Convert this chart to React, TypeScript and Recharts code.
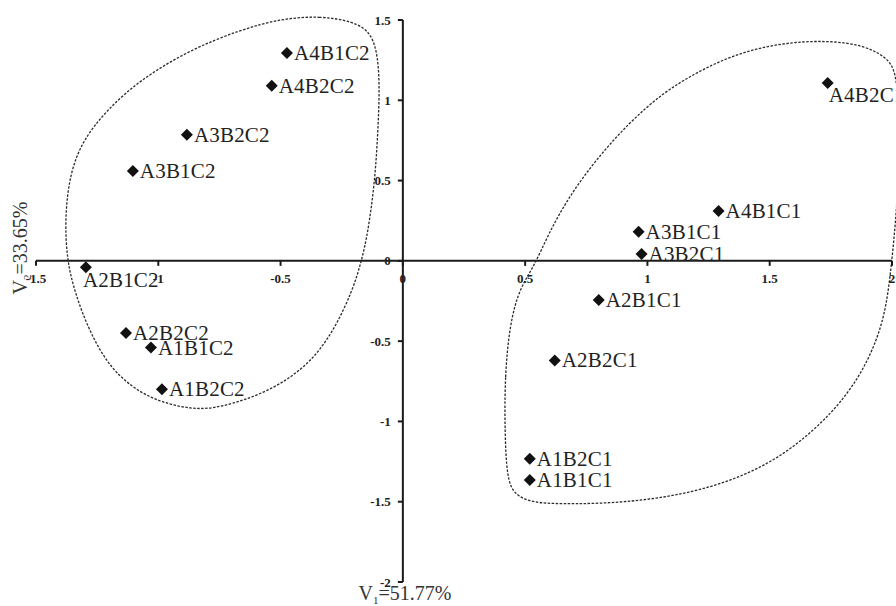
import React from 'react';
import {
  ScatterChart,
  Scatter,
  XAxis,
  YAxis,
  ZAxis,
  ReferenceLine,
  ReferenceDot,
  LabelList,
} from 'recharts';

// treatment scores on the first two components
const treatments = [
  'A4B1C2', 'A4B2C2', 'A3B2C2', 'A3B1C2', 'A2B1C2', 'A2B2C2', 'A1B1C2', 'A1B2C2',
  'A4B2C1', 'A4B1C1', 'A3B1C1', 'A3B2C1', 'A2B1C1', 'A2B2C1', 'A1B2C1', 'A1B1C1',
];
const v1Scores = [
  -0.474, -0.536, -0.883, -1.104, -1.296, -1.132, -1.03, -0.985,
  1.737, 1.291, 0.964, 0.976, 0.801, 0.621, 0.519, 0.519,
];
const v2Scores = [
  1.295, 1.09, 0.785, 0.56, -0.04, -0.45, -0.54, -0.8,
  1.108, 0.311, 0.181, 0.042, -0.243, -0.62, -1.233, -1.364,
];

const xTicks = [-1.5, -1, -0.5, 0, 0.5, 1, 1.5, 2];
const yTicks = [-2, -1.5, -1, -0.5, 0, 0.5, 1, 1.5];

// dashed group outlines (C2 group on the left, C1 group on the right)
const c2Outline: [number, number][] = [
  [-0.503, 1.507], [-0.339, 1.526], [-0.2, 1.49], [-0.135, 1.426], [-0.106, 1.314],
  [-0.094, 1.108], [-0.102, 0.797], [-0.115, 0.486], [-0.143, 0.174], [-0.168, 0.006],
  [-0.204, -0.181], [-0.286, -0.448], [-0.392, -0.66], [-0.556, -0.822], [-0.748, -0.915],
  [-0.859, -0.928], [-1.034, -0.866], [-1.186, -0.697], [-1.28, -0.448], [-1.341, -0.199],
  [-1.374, 0.006], [-1.382, 0.274], [-1.361, 0.548], [-1.308, 0.753], [-1.21, 0.94],
  [-1.075, 1.127], [-0.871, 1.314], [-0.666, 1.438],
];
const c1Outline: [number, number][] = [
  [0.417, -1.059], [0.417, -0.722], [0.437, -0.392], [0.478, -0.168], [0.536, -0.037],
  [0.597, 0.174], [0.679, 0.399], [0.789, 0.629], [0.924, 0.859], [1.063, 1.046],
  [1.198, 1.171], [1.333, 1.27], [1.472, 1.333], [1.607, 1.364], [1.742, 1.37],
  [1.881, 1.345], [1.975, 1.27], [2.016, 1.189], [2.028, 0.94], [2.028, 0.629],
  [2.02, 0.336], [2.003, 0.05], [1.979, -0.28], [1.938, -0.498], [1.868, -0.722],
  [1.758, -0.946], [1.594, -1.171], [1.419, -1.326], [1.214, -1.432], [1.01, -1.488],
  [0.806, -1.513], [0.601, -1.513], [0.52, -1.5], [0.455, -1.455], [0.425, -1.35],
];

const points = treatments.map((name, i) => ({ name, x: v1Scores[i], y: v2Scores[i] }));
const toXY = (pts: [number, number][]) => pts.map(([x, y]) => ({ x, y }));

const FONT = 'Liberation Serif, Times New Roman, serif';
const INK = '#1a1a1a';
// labels that sit below the marker instead of to the right
const LABEL_SHIFT: Record<string, [number, number]> = {
  A2B1C2: [-3, 13],
  A4B2C1: [1, 12],
};

const Diamond = (p: any) => {
  const { cx, cy } = p;
  const s = 6;
  return (
    <polygon
      points={`${cx},${cy - s} ${cx + s},${cy} ${cx},${cy + s} ${cx - s},${cy}`}
      fill="#111"
    />
  );
};

const NoShape = () => <g />;

const PointLabel = (props: any) => {
  const vb = props.viewBox || props;
  const cx = vb.x + (vb.width || 0) / 2;
  const cy = vb.y + (vb.height || 0) / 2;
  const name = String(props.value);
  const shift = LABEL_SHIFT[name] || [7, 0];
  return (
    <text
      x={cx + shift[0]}
      y={cy + shift[1]}
      dominantBaseline="central"
      fontSize={21}
      letterSpacing={0.2}
      fontFamily={FONT}
      fill="#222"
    >
      {name}
    </text>
  );
};

const XTick = ({ cx, cy, value }: any) => (
  <g>
    <line x1={cx} y1={cy} x2={cx} y2={cy + 5} stroke={INK} strokeWidth={2} />
    <text
      x={cx}
      y={cy + 17.5}
      textAnchor="middle"
      dominantBaseline="central"
      fontSize={13}
      fontWeight="bold"
      fontFamily={FONT}
      fill="#222"
    >
      {value}
    </text>
  </g>
);

const YTick = ({ cx, cy, value }: any) => (
  <g>
    <line x1={cx - 5} y1={cy} x2={cx} y2={cy} stroke={INK} strokeWidth={2} />
    <text
      x={cx - 12}
      y={cy}
      textAnchor="end"
      dominantBaseline="central"
      fontSize={13}
      fontWeight="bold"
      fontFamily={FONT}
      fill="#222"
    >
      {value}
    </text>
  </g>
);

const outlineLine = { stroke: '#2a2a2a', strokeWidth: 1.3, strokeDasharray: '2.5 1.5' };

export default function App() {
  return (
    <div style={{ position: 'absolute', left: 0, top: 0, width: 896, height: 606, background: '#fff' }}>
      <ScatterChart width={896} height={606} margin={{ top: 14, right: 0, bottom: 24, left: 36 }}>
        <XAxis type="number" dataKey="x" domain={[-1.5, 2.0164]} allowDataOverflow hide />
        <YAxis type="number" dataKey="y" domain={[-2, 1.5374]} allowDataOverflow hide />
        <ZAxis range={[64, 64]} />

        <Scatter
          data={toXY(c2Outline)}
          line={outlineLine}
          lineType="joint"
          lineJointType="basisClosed"
          shape={NoShape}
          isAnimationActive={false}
        />
        <Scatter
          data={toXY(c1Outline)}
          line={outlineLine}
          lineType="joint"
          lineJointType="basisClosed"
          shape={NoShape}
          isAnimationActive={false}
        />

        <ReferenceLine segment={[{ x: -1.5, y: 0 }, { x: 2, y: 0 }]} stroke={INK} strokeWidth={2} />
        <ReferenceLine segment={[{ x: 0, y: -2 }, { x: 0, y: 1.5 }]} stroke={INK} strokeWidth={2} />

        {xTicks.map((t) => (
          <ReferenceDot key={'x' + t} x={t} y={0} r={0} shape={(p: any) => <XTick {...p} value={t} />} />
        ))}
        {yTicks.map((t) => (
          <ReferenceDot key={'y' + t} x={0} y={t} r={0} shape={(p: any) => <YTick {...p} value={t} />} />
        ))}

        <Scatter data={points} shape={Diamond} isAnimationActive={false}>
          <LabelList dataKey="name" content={PointLabel} />
        </Scatter>
      </ScatterChart>

      <svg
        width={896}
        height={606}
        style={{ position: 'absolute', left: 0, top: 0, pointerEvents: 'none' }}
      >
        <text
          x={27}
          y={248}
          transform="rotate(-90 27 248)"
          textAnchor="middle"
          fontSize={20}
          fontFamily={FONT}
          fill="#333"
        >
          V<tspan fontSize={11} dy={4}>2</tspan>
          <tspan dy={-4}>=33.65%</tspan>
        </text>
        <text x={405} y={600} textAnchor="middle" fontSize={20} fontFamily={FONT} fill="#333">
          V<tspan fontSize={11} dy={4}>1</tspan>
          <tspan dy={-4}>=51.77%</tspan>
        </text>
      </svg>
    </div>
  );
}
